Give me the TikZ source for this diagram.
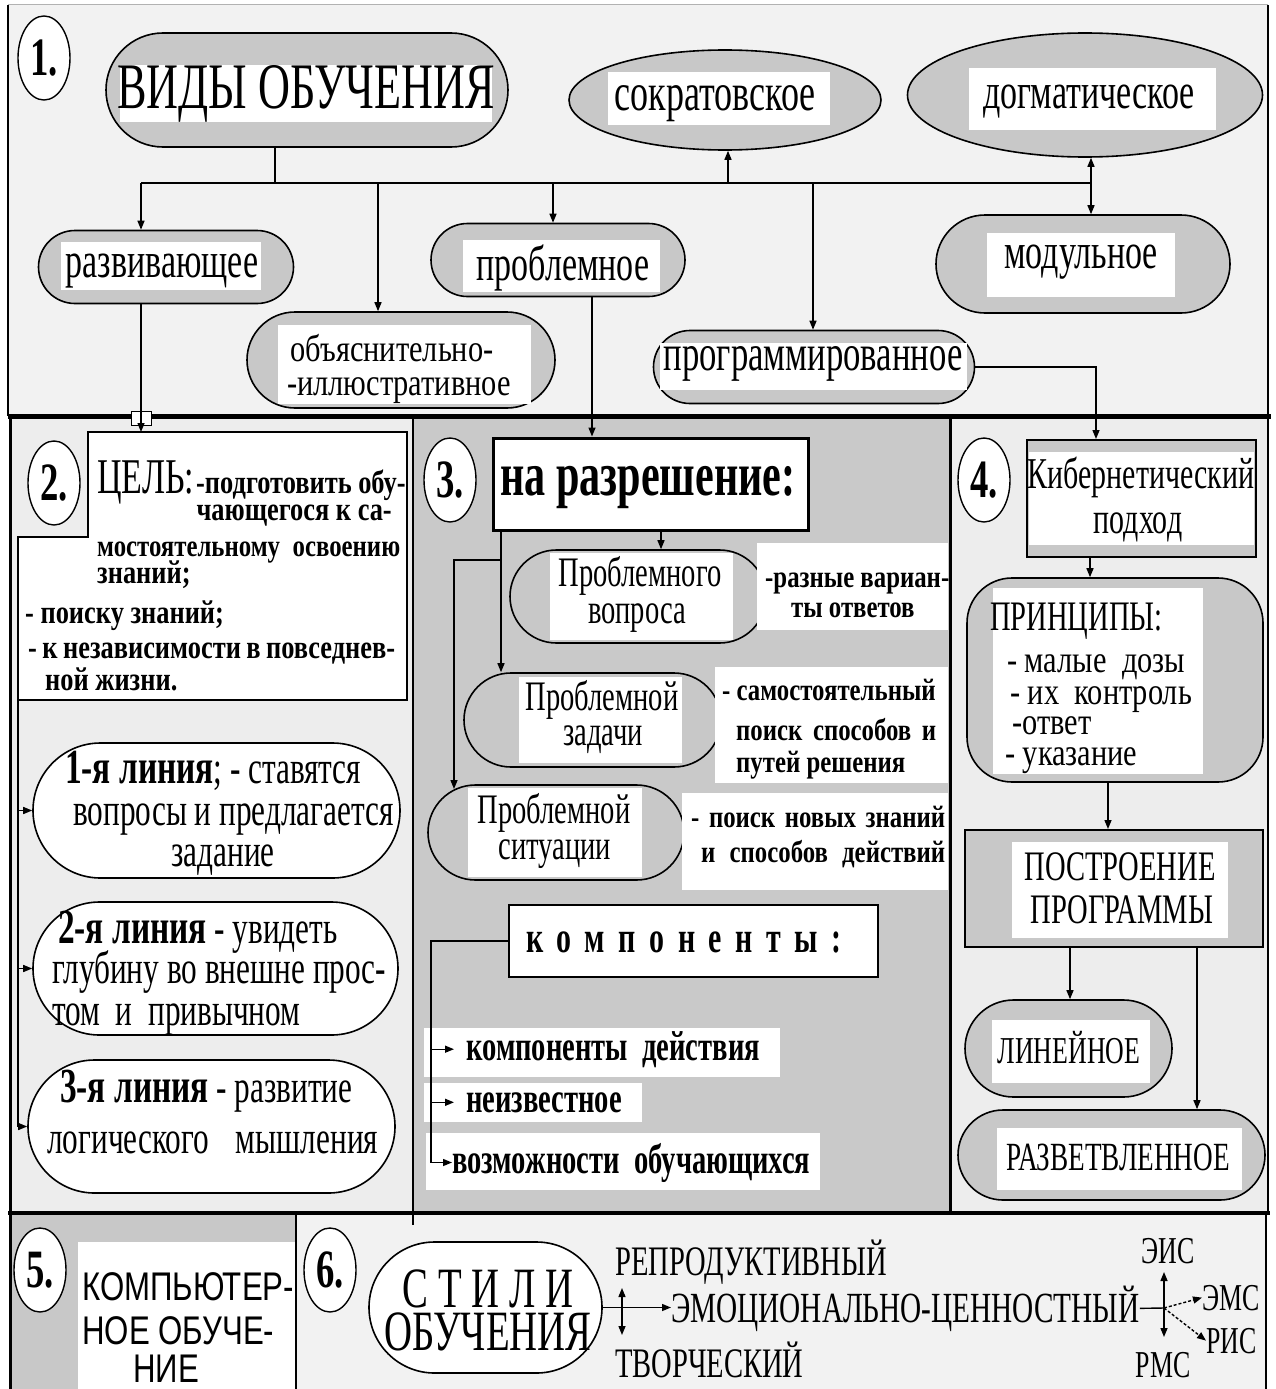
\documentclass[tikz,border=0pt]{standalone}
\usepackage{fontspec}
\setmainfont{Liberation Serif}
\newfontfamily\cs[FakeStretch=0.68]{Liberation Serif}
\newfontfamily\csw[FakeStretch=0.8]{Liberation Serif}
\newfontfamily\csa[FakeStretch=0.78]{Liberation Sans}
\usetikzlibrary{shapes.misc,shapes.geometric,arrows.meta}
\definecolor{shgray}{HTML}{C8C8C8}
\definecolor{bgl}{HTML}{F2F2F2}
\definecolor{bgm}{HTML}{C9C9C9}
\definecolor{bgs}{HTML}{EDEDED}
\newcommand\fsz[1]{\fontsize{#1}{#1}\selectfont}
\begin{document}
\begin{tikzpicture}[x=1pt,y=-1pt,
 stad/.style={rounded rectangle, draw=black, line width=1.6pt, fill=shgray, inner sep=0pt},
 wstad/.style={stad, fill=white},
 ell/.style={ellipse, draw=black, line width=1.6pt, fill=shgray, inner sep=0pt},
 num/.style={ellipse, draw=black, line width=1.4pt, fill=white, minimum width=52pt, minimum height=84pt, inner sep=0pt, font=\cs\bfseries\fsz{54}},
 boxn/.style={rectangle, draw=black, line width=2pt, inner sep=0pt},
 arr/.style={line width=1.4pt, -{Triangle[length=9pt,width=7pt]}},
 darr/.style={line width=1.4pt, {Triangle[length=9pt,width=7pt]}-{Triangle[length=9pt,width=7pt]}},
 ln/.style={line width=1.4pt},
 tw/.style={inner sep=0pt, anchor=base west},
 tc/.style={inner sep=0pt, anchor=base},
 te/.style={inner sep=0pt, anchor=base east},
 small/.style={font=\csw\bfseries\fsz{33}},
 lab/.style={font=\csw\bfseries\fsz{31}},
 lin/.style={font=\cs\fsz{46}},
 pri/.style={font=\csw\fsz{38}},
]
\useasboundingbox (0,0) rectangle (1276,1389);
\fill[white] (0,0) rectangle (1276,1389);
% backgrounds
\fill[bgl] (8,5) rectangle (1268,416);
\fill[bgs] (10,418) rectangle (413,1212);
\fill[bgm] (413,418) rectangle (950,1212);
\fill[bgs] (950,418) rectangle (1268,1212);
\fill[shgray] (10,1214) rectangle (296,1389);
\fill[white] (78,1242) rectangle (296,1389);
\fill[bgl] (296,1214) rectangle (1266,1389);
% frame lines
\draw[gray!60, line width=1pt] (8,5) -- (1268,5);
\draw[line width=2pt] (8,5) -- (8,416);
\draw[line width=2pt] (1268,5) -- (1268,1212);
\draw[line width=5pt] (8,416) -- (1271,416);
\draw[line width=3pt] (10,416) -- (10,1389);
\draw[line width=2pt] (413,416) -- (413,1225);
\draw[line width=3pt] (950,416) -- (950,1212);
\draw[line width=4pt] (8,1213) -- (1270,1213);
\draw[line width=2pt] (296,1213) -- (296,1389);
\draw[line width=2pt] (1266,1213) -- (1266,1389);

% ---------- section 1 ----------
\node[num] (n1) at (44,58) {1.};
\node[stad, minimum width=402pt, minimum height=114pt] (vidy) at (307,90) {};
\fill[white] (120,65) rectangle (492,122);
\node[tc, font=\cs\fsz{65}] (vidyT) at (306,108) {ВИДЫ ОБУЧЕНИЯ};

\node[ell, minimum width=312pt, minimum height=100pt] (sokr) at (725,100) {};
\fill[white] (608,72) rectangle (830,125);
\node[tc, font=\cs\fsz{53}] (sokrT) at (715,110) {сократовское};

\node[ell, minimum width=355pt, minimum height=124pt] (dogm) at (1085,95) {};
\fill[white] (969,68) rectangle (1216,130);
\node[tc, font=\cs\fsz{50}] (dogmT) at (1089,108) {догматическое};

\node[stad, minimum width=255pt, minimum height=73pt] (razv) at (166,267) {};
\fill[white] (61,242) rectangle (261,290);
\node[tc, font=\cs\fsz{50}] (razvT) at (162,277) {развивающее};

\node[stad, minimum width=254pt, minimum height=73pt] (probl) at (558,260) {};
\fill[white] (463,240) rectangle (660,292);
\node[tc, font=\cs\fsz{50}] (problT) at (563,280) {проблемное};

\node[stad, minimum width=308pt, minimum height=96pt] (obyas) at (401,360) {};
\fill[white] (278,325) rectangle (531,404);
\node[tc, font=\csw\fsz{38}] (obyasT1) at (392,361) {объяснительно-};
\node[tc, font=\csw\fsz{38}] (obyasT2) at (399,395) {-иллюстративное};

\node[stad, minimum width=321pt, minimum height=73pt] (progr) at (814,367) {};
\fill[white] (660,343) rectangle (967,390);
\node[tc, font=\cs\fsz{51}] (progrT) at (813,370) {программированное};

\node[stad, minimum width=294pt, minimum height=98pt] (modul) at (1083,264) {};
\fill[white] (987,233) rectangle (1175,297);
\node[tc, font=\cs\fsz{50}] (modulT) at (1081,268) {модульное};

\coordinate (busL) at (141,183);
\coordinate (busR) at (1091,183);
\draw[ln] (vidy.south -| 275,0) -- (275,183);
\draw[ln] (busL) -- (busR);
\draw[arr] (busL) -- (razv.north -| busL);
\draw[arr] (378,183) -- (obyas.north -| 378,0);
\draw[arr] (553,183) -- (probl.north -| 553,0);
\draw[arr] (728,183) -- (sokr.south -| 728,0);
\draw[arr] (813,183) -- (progr.north -| 813,0);
\draw[darr] (dogm.south -| 1091,0) -- (modul.north -| 1091,0);

% ---------- section 2 ----------
\draw[line width=2pt, fill=white] (88,432) -- (407,432) -- (407,700) -- (18,700) -- (18,537) -- (88,537) -- cycle;
\coordinate (celtop) at (141,432);
\draw[line width=1pt, fill=white] (131,411) rectangle (151,425);
\draw[arr] (razv.south -| 141,0) -- (celtop);
\node[num] (n2) at (54,483) {2.};
\node[tw, font=\cs\fsz{50}] (celT) at (97,493) {ЦЕЛЬ:};
\node[tw, small] (c1) at (196,493) {-подготовить обу-};
\node[te, small] (c2) at (392,520) {чающегося к са-};
\node[tw, font=\csw\bfseries\fsz{31}] (c3) at (97,556) {\makebox[303pt][s]{мостоятельному освоению}};
\node[tw, small] (c4) at (97,583) {знаний;};
\node[tw, small] (c5) at (25,623) {- поиску знаний;};
\node[tw, small] (c6) at (28,658) {\makebox[367pt][s]{- к независимости в повседнев-}};
\node[tw, small] (c7) at (45,690) {ной жизни.};

\node[wstad, minimum width=367pt, minimum height=135pt] (l1) at (216.5,810.5) {};
\node[tw, lin] (l1a) at (65,783) {{\fontsize{49}{49}\selectfont\bfseries 1-я линия}; - ставятся};
\node[tw, lin] (l1b) at (73,825) {вопросы и предлагается};
\node[tc, lin] (l1c) at (223,866) {задание};
\node[wstad, minimum width=365pt, minimum height=133pt] (l2) at (215.5,968.5) {};
\node[tw, lin] (l2a) at (58,943) {{\fontsize{49}{49}\selectfont\bfseries 2-я линия} - увидеть};
\node[tw, lin] (l2b) at (52,983) {глубину во внешне прос-};
\node[tw, lin] (l2c) at (52,1025) {том\ \ и\ \ привычном};
\node[wstad, minimum width=367pt, minimum height=133pt] (l3) at (211.5,1126.5) {};
\node[tw, lin] (l3a) at (60,1102) {{\fontsize{49}{49}\selectfont\bfseries 3-я линия} - развитие};
\node[tw, lin] (l3b) at (47,1153) {\makebox[331pt][s]{логического мышления}};
\draw[ln] (18,700) -- (18,1127);
\draw[arr] (l1.west -| 18,0) -- (l1.west);
\draw[arr] (l2.west -| 18,0) -- (l2.west);
\draw[arr] (l3.west -| 18,0) -- (l3.west);

% ---------- section 3 ----------
\node[num] (n3) at (450,480) {3.};
\node[rectangle, draw=black, line width=3pt, fill=white, minimum width=315pt, minimum height=92pt, inner sep=0pt] (razr) at (650.5,484) {};
\node[tc, font=\cs\bfseries\fsz{62}] (razrT) at (648,495) {на разрешение:};
\draw[arr] (probl.south -| 592,0) -- (razr.north -| 592,0);

\node[stad, minimum width=256pt, minimum height=93pt] (pv) at (638,596.5) {};
\fill[white] (550,553) rectangle (733,640);
\node[tc, font=\cs\fsz{42}] (pvT1) at (640,586) {Проблемного};
\node[tc, font=\cs\fsz{42}] (pvT2) at (637,623) {вопроса};
\fill[white] (757,543) rectangle (948,630);
\node[tw, lab] (pvL1) at (765,587) {-разные вариан-};
\node[tw, lab] (pvL2) at (791,617) {ты ответов};

\node[stad, minimum width=257pt, minimum height=94pt] (pz) at (592.5,720) {};
\fill[white] (519,677) rectangle (682,763);
\node[tc, font=\cs\fsz{42}] (pzT1) at (602,710) {Проблемной};
\node[tc, font=\cs\fsz{42}] (pzT2) at (603,745) {задачи};
\fill[white] (715,667) rectangle (948,783);
\node[tw, lab] (pzL1) at (722,700) {- самостоятельный};
\node[tw, lab] (pzL2) at (736,740) {\makebox[200pt][s]{поиск способов и}};
\node[tw, lab] (pzL3) at (736,772) {путей решения};

\node[stad, minimum width=256pt, minimum height=95pt] (ps) at (556,832.5) {};
\fill[white] (468,788) rectangle (642,877);
\node[tc, font=\cs\fsz{42}] (psT1) at (554,823) {Проблемной};
\node[tc, font=\cs\fsz{42}] (psT2) at (555,859) {ситуации};
\fill[white] (682,793) rectangle (948,890);
\node[tw, lab] (psL1) at (691,827) {\makebox[254pt][s]{- поиск новых знаний}};
\node[tw, lab] (psL2) at (701,862) {\makebox[244pt][s]{и способов действий}};

\coordinate (psTop) at (454,789);
\draw[arr] (razr.south -| 661,0) -- (pv.north -| 661,0);
\draw[arr] (razr.south -| 501,0) -- (pz.north -| 501,0);
\draw[arr] (501,560) -| (psTop);

\node[rectangle, draw=black, line width=2.5pt, fill=white, minimum width=369pt, minimum height=72pt, inner sep=0pt] (komp) at (693.5,941) {};
\node[tc, font={\cs\bfseries\fsz{44}\addfontfeature{LetterSpace=31}}] (kompT) at (684,952) {компоненты:};
\fill[white] (424,1028) rectangle (780,1077);
\fill[white] (424,1083) rectangle (642,1122);
\fill[white] (426,1133) rectangle (820,1190);
\draw[ln] (komp.west) -| (431,1163);
\node[tw, font=\cs\bfseries\fsz{42}] (k1) at (466,1060) {компоненты\ \ действия};
\node[tw, font=\cs\bfseries\fsz{42}] (k2) at (466,1112) {неизвестное};
\node[tw, font=\cs\bfseries\fsz{42}] (k3) at (452,1173) {возможности\ \ обучающихся};
\draw[arr, shorten >=12pt] (k1.west -| 431,0) -- (k1.west);
\draw[arr, shorten >=12pt] (k2.west -| 431,0) -- (k2.west);
\draw[arr] (k3.west -| 431,0) -- (k3.west);

% ---------- section 4 ----------
\node[num] (n4) at (984,480) {4.};
\node[boxn, fill=shgray, minimum width=229pt, minimum height=117pt] (kib) at (1141.5,498.5) {};
\fill[white] (1029,452) rectangle (1254,545);
\node[tc, font=\cs\fsz{44}] (kibT1) at (1141,488) {Кибернетический};
\node[tc, font=\cs\fsz{44}] (kibT2) at (1138,533) {подход};
\draw[arr] (progr.east) -| (kib.north -| 1096,0);

\node[rectangle, rounded corners=45pt, draw=black, line width=1.6pt, fill=shgray, minimum width=296pt, minimum height=204pt, inner sep=0pt] (princ) at (1115,680) {};
\fill[white] (993,588) rectangle (1203,774);
\node[tw, font=\cs\fsz{42}] (prT) at (990,630) {ПРИНЦИПЫ:};
\node[tw, pri] (pr1) at (1007,672) {- малые\ \ дозы};
\node[tw, pri] (pr2) at (1010,704) {- их\ \ контроль};
\node[tw, pri] (pr3) at (1012,734) {-ответ};
\node[tw, pri] (pr4) at (1005,765) {- указание};
\draw[arr] (kib.south -| 1090,0) -- (princ.north -| 1090,0);

\node[boxn, fill=shgray, minimum width=298pt, minimum height=117pt] (postr) at (1114,888.5) {};
\fill[white] (1012,842) rectangle (1228,938);
\node[tc, font=\cs\fsz{42}] (postrT1) at (1120,880) {ПОСТРОЕНИЕ};
\node[tc, font=\cs\fsz{42}] (postrT2) at (1122,923) {ПРОГРАММЫ};
\draw[arr] (princ.south -| 1108,0) -- (postr.north -| 1108,0);

\node[stad, minimum width=207pt, minimum height=97pt] (lin) at (1068.5,1048.5) {};
\fill[white] (992,1020) rectangle (1150,1083);
\node[tc, font=\cs\fsz{38}] (linT) at (1069,1063) {ЛИНЕЙНОЕ};
\node[stad, minimum width=307pt, minimum height=90pt] (razvt) at (1111.5,1155) {};
\fill[white] (997,1128) rectangle (1242,1190);
\node[tc, font=\cs\fsz{40}] (razvtT) at (1118,1170) {РАЗВЕТВЛЕННОЕ};
\draw[arr] (postr.south -| 1070,0) -- (lin.north -| 1070,0);
\draw[arr] (postr.south -| 1197,0) -- (razvt.north -| 1197,0);

% ---------- section 5 ----------
\node[num] (n5) at (40,1270) {5.};
\node[tw, font=\csa\fsz{40}] (k5a) at (82,1300) {КОМПЬЮТЕР-};
\node[tw, font=\csa\fsz{40}] (k5b) at (82,1344) {НОЕ ОБУЧЕ-};
\node[tw, font=\csa\fsz{40}] (k5c) at (133,1382) {НИЕ};

% ---------- section 6 ----------
\node[num] (n6) at (330,1270) {6.};
\node[wstad, minimum width=233pt, minimum height=131pt] (stili) at (485.5,1307.5) {};
\node[tc, font=\cs\fsz{57}] (stT1) at (488,1307) {С Т И Л И};
\node[tc, font=\cs\fsz{57}] (stT2) at (488,1350) {ОБУЧЕНИЯ};
\node[tw, font=\cs\fsz{42}] (rep) at (615,1275) {РЕПРОДУКТИВНЫЙ};
\node[tw, font=\cs\fsz{43}] (emo) at (671,1322) {ЭМОЦИОНАЛЬНО-ЦЕННОСТНЫЙ};
\node[tw, font=\cs\fsz{42}] (tvor) at (615,1377) {ТВОРЧЕСКИЙ};
\draw[arr] (stili.east) -- (stili.east -| emo.west);
\coordinate (vu) at (622,1288);
\coordinate (vd) at (622,1335);
\draw[darr] (vu) -- (vd);

\node[tc, font=\cs\fsz{38}] (eis) at (1168,1263) {ЭИС};
\node[tw, font=\cs\fsz{38}] (ems) at (1202,1310) {ЭМС};
\node[tw, font=\cs\fsz{38}] (ris) at (1206,1353) {РИС};
\node[tc, font=\cs\fsz{38}] (rms) at (1163,1377) {РМС};
\coordinate (hub) at (1164,1308);
\coordinate (hubT) at (1164,1272);
\coordinate (hubB) at (1164,1337);
\draw[ln] (emo.east) -- (hub);
\draw[darr] (hubT) -- (hubB);
\draw[arr, densely dashed] (hub) -- (ems.west);
\draw[arr, densely dashed] (hub) -- (ris.west);
\end{tikzpicture}
\end{document}
